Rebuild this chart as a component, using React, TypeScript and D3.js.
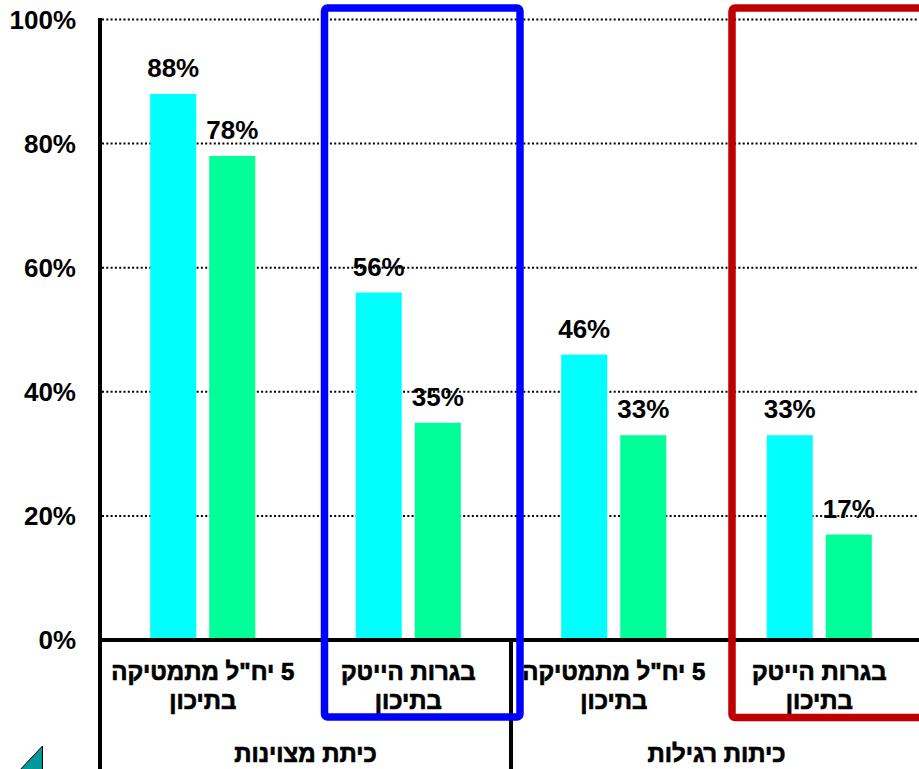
import React from "react";
import * as d3 from "d3";

const categories = ["c1", "c2", "c3", "c4"];
const categoryLine1 = ['5 יח"ל מתמטיקה', "בגרות הייטק", '5 יח"ל מתמטיקה', "בגרות הייטק"];
const categoryLine2 = ["בתיכון", "בתיכון", "בתיכון", "בתיכון"];
const groupLabels = ["כיתת מצוינות", "כיתות רגילות"];
const seriesNames = ["s1", "s2"];
const cyanValues = [0.88, 0.56, 0.46, 0.33];
const greenValues = [0.78, 0.35, 0.33, 0.17];
const yTicks = [0, 0.2, 0.4, 0.6, 0.8, 1.0];
const colors = ["#00ffff", "#00ff99"];

const W = 919;
const H = 769;
const FONT = "'Liberation Sans', Arial, sans-serif";

export default function App() {
  const y = d3.scaleLinear().domain([0, 1]).range([640, 19.5]);
  const x0 = d3.scaleBand<string>().domain(categories).range([100, 922]).padding(0);
  const x1 = d3
    .scaleBand<string>()
    .domain(seriesNames)
    .range([0, x0.bandwidth()])
    .paddingInner(0.22)
    .paddingOuter(0.85);
  const series = [cyanValues, greenValues];
  const pct = d3.format(".0%");

  const groupCenters = [
    ((x0("c1") as number) + (x0("c2") as number) + x0.bandwidth()) / 2,
    ((x0("c3") as number) + (x0("c4") as number) + x0.bandwidth()) / 2,
  ];

  const heb = { fontSize: 24, fill: "#000", stroke: "#000", strokeWidth: 0.7 };

  return (
    <svg
      width={W}
      height={H}
      style={{ position: "absolute", left: 0, top: 0, background: "#fff" }}
      fontFamily={FONT}
      fontWeight="bold"
    >
      {/* gridlines */}
      {yTicks
        .filter((t) => t > 0)
        .map((t) => (
          <line
            key={"g" + t}
            x1={102}
            x2={W}
            y1={y(t)}
            y2={y(t)}
            stroke="#000"
            strokeWidth={2}
            strokeDasharray="2,2.3"
          />
        ))}
      {/* tick labels */}
      {yTicks.map((t) => (
        <text
          key={"t" + t}
          x={76}
          y={y(t) + 9.3}
          textAnchor="end"
          fontSize={26}
          fill="#000"
        >
          {pct(t)}
        </text>
      ))}
      {/* bars */}
      {categories.map((c, i) =>
        seriesNames.map((s, j) => {
          const v = series[j][i];
          const bx = (x0(c) as number) + (x1(s) as number);
          return (
            <g key={c + s}>
              <rect x={bx} y={y(v)} width={x1.bandwidth()} height={y(0) - y(v)} fill={colors[j]} />
              <text
                x={bx + x1.bandwidth() / 2}
                y={y(v) - 17}
                textAnchor="middle"
                fontSize={26}
                fill="#000"
              >
                {pct(v)}
              </text>
            </g>
          );
        })
      )}
      {/* axis lines */}
      <line x1={100} x2={100} y1={18} y2={H} stroke="#000" strokeWidth={4} />
      <line x1={98} x2={W} y1={640} y2={640} stroke="#000" strokeWidth={4} />
      <line x1={511} x2={511} y1={640} y2={H} stroke="#000" strokeWidth={4} />
      {/* category labels */}
      {categories.map((c, i) => {
        const cx = (x0(c) as number) + x0.bandwidth() / 2;
        return (
          <g key={"cl" + c}>
            <text x={cx} y={680} textAnchor="middle" direction="rtl" {...heb}>
              {categoryLine1[i]}
            </text>
            <text x={cx} y={709} textAnchor="middle" direction="rtl" {...heb}>
              {categoryLine2[i]}
            </text>
          </g>
        );
      })}
      {groupLabels.map((g, i) => (
        <text key={"gl" + i} x={groupCenters[i]} y={762} textAnchor="middle" direction="rtl" {...heb}>
          {g}
        </text>
      ))}
      {/* highlight boxes */}
      <rect x={324.5} y={8} width={195.5} height={709} fill="none" stroke="#0000ff" strokeWidth={7.5} rx={3} />
      <rect x={732} y={8} width={220} height={709.5} fill="none" stroke="#c00000" strokeWidth={7.5} rx={3} />
      {/* nav triangle */}
      <path d="M42.5,746 L42.5,772 L18,772 Z" fill="#009999" stroke="#000" strokeWidth={1} />
    </svg>
  );
}
